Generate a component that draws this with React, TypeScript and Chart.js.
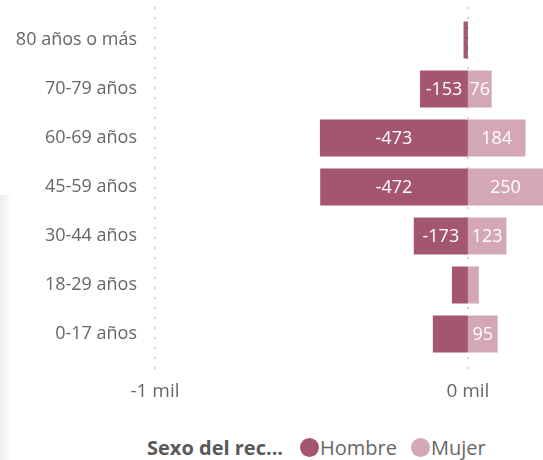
import React, { useEffect, useRef } from "react";
import { Chart, registerables } from "chart.js";

Chart.register(...registerables);

const categories = ["80 años o más", "70-79 años", "60-69 años", "45-59 años", "30-44 años", "18-29 años", "0-17 años"];
const hombre = [-14, -153, -473, -472, -173, -51, -112];
const mujer = [null, 76, 184, 250, 123, 35, 95];
const xTicks = [-1000, 0];
const xTickLabels = ["-1 mil", "0 mil"];
const legendTitle = "Sexo del rec...";
const seriesNames = ["Hombre", "Mujer"];

const COLORS = ["#A5566F", "#D4A7B6"];
const FONT = "'Open Sans', 'Noto Sans', sans-serif";
const GRAY = "#666666";

const labelPlugin = {
  id: "barLabels",
  afterDatasetsDraw(chart: any) {
    const ctx = chart.ctx;
    const area = chart.chartArea;
    ctx.save();
    ctx.font = `18px ${FONT}`;
    ctx.fillStyle = "#FFFFFF";
    ctx.textAlign = "center";
    ctx.textBaseline = "middle";
    chart.data.datasets.forEach((ds: any, i: number) => {
      const meta = chart.getDatasetMeta(i);
      meta.data.forEach((bar: any, j: number) => {
        const v = ds.data[j];
        if (v == null) return;
        const p = bar.getProps(["x", "base", "y"], true);
        const x1 = Math.max(area.left, Math.min(p.x, p.base));
        const x2 = Math.min(area.right, Math.max(p.x, p.base));
        const w = x2 - x1;
        const text = String(v);
        const tw = ctx.measureText(text).width;
        if (tw > w) return;
        ctx.fillText(text, (x1 + x2) / 2, p.y + 1);
      });
    });
    ctx.restore();
  },
};

const dottedGrid = {
  id: "dottedGrid",
  beforeDatasetsDraw(chart: any) {
    const ctx = chart.ctx;
    const xs = chart.scales.x;
    ctx.save();
    ctx.fillStyle = "#D6D6D6";
    xTicks.forEach((v) => {
      const px = Math.round(xs.getPixelForValue(v));
      for (let y = 7; y <= 373; y += 10) {
        ctx.fillRect(px - 1, y, 2, 2);
      }
    });
    ctx.restore();
  },
};

export default function App() {
  const ref = useRef<HTMLCanvasElement | null>(null);

  useEffect(() => {
    document.body.style.margin = "0";
    const chart = new Chart(ref.current as HTMLCanvasElement, {
      type: "bar",
      data: {
        labels: categories,
        datasets: [
          {
            label: seriesNames[0],
            data: hombre,
            backgroundColor: COLORS[0],
            borderWidth: 0,
            categoryPercentage: 1,
            barPercentage: 0.76,
          },
          {
            label: seriesNames[1],
            data: mujer as any,
            backgroundColor: COLORS[1],
            borderWidth: 0,
            categoryPercentage: 1,
            barPercentage: 0.76,
          },
        ],
      },
      options: {
        indexAxis: "y",
        animation: false,
        responsive: false,
        maintainAspectRatio: false,
        layout: { padding: { top: 15.5, right: 0, left: 0, bottom: 0 } },
        plugins: {
          legend: { display: false },
          tooltip: { enabled: false },
        },
        scales: {
          x: {
            stacked: true,
            min: -1000,
            max: 240,
            afterBuildTicks(scale: any) {
              scale.ticks = xTicks.map((v) => ({ value: v }));
            },
            afterFit(scale: any) {
              scale.height = 41.5;
              scale.paddingTop = 0;
              scale.paddingBottom = 0;
              scale.paddingLeft = 0;
              scale.paddingRight = 0;
            },
            ticks: {
              padding: 22,
              color: GRAY,
              font: { family: FONT, size: 19 },
              callback(value: any) {
                const idx = xTicks.indexOf(Number(value));
                return idx >= 0 ? xTickLabels[idx] : "";
              },
            },
            grid: { display: false, drawTicks: false },
            border: { display: false },
          },
          y: {
            stacked: true,
            afterFit(scale: any) {
              scale.width = 155;
              scale.paddingTop = 0;
              scale.paddingBottom = 0;
              scale.paddingLeft = 0;
              scale.paddingRight = 0;
            },
            ticks: {
              padding: 18,
              color: GRAY,
              font: { family: FONT, size: 18 },
            },
            grid: { display: false, drawTicks: false },
            border: { display: false },
          },
        },
      },
      plugins: [dottedGrid, labelPlugin],
    } as any);
    return () => chart.destroy();
  }, []);

  return (
    <div style={{ position: "relative", width: 543, height: 460, background: "#fff", overflow: "hidden" }}>
      <div
        style={{
          position: "absolute",
          left: 0,
          top: 195,
          width: 12,
          height: 265,
          background: "linear-gradient(to right, rgba(0,0,0,0.07), rgba(0,0,0,0))",
        }}
      />
      <canvas ref={ref} width={543} height={400} style={{ position: "absolute", left: 0, top: 0 }} />
      <div
        style={{
          position: "absolute",
          top: 435,
          left: 0,
          width: 543,
          height: 24,
          display: "flex",
          alignItems: "center",
          justifyContent: "flex-start",
          paddingLeft: 147,
          boxSizing: "border-box",
          fontFamily: FONT,
          fontSize: 20,
          color: GRAY,
          whiteSpace: "nowrap",
        }}
      >
        <span style={{ fontWeight: "bold", fontSize: 20, color: "#595959", marginRight: 17 }}>{legendTitle}</span>
        {seriesNames.map((n, i) => (
          <span key={n} style={{ display: "flex", alignItems: "center", marginRight: 14 }}>
            <span
              style={{
                display: "inline-block",
                width: 19,
                height: 19,
                borderRadius: "50%",
                background: COLORS[i],
                marginRight: 1,
              }}
            />
            {n}
          </span>
        ))}
      </div>
    </div>
  );
}
